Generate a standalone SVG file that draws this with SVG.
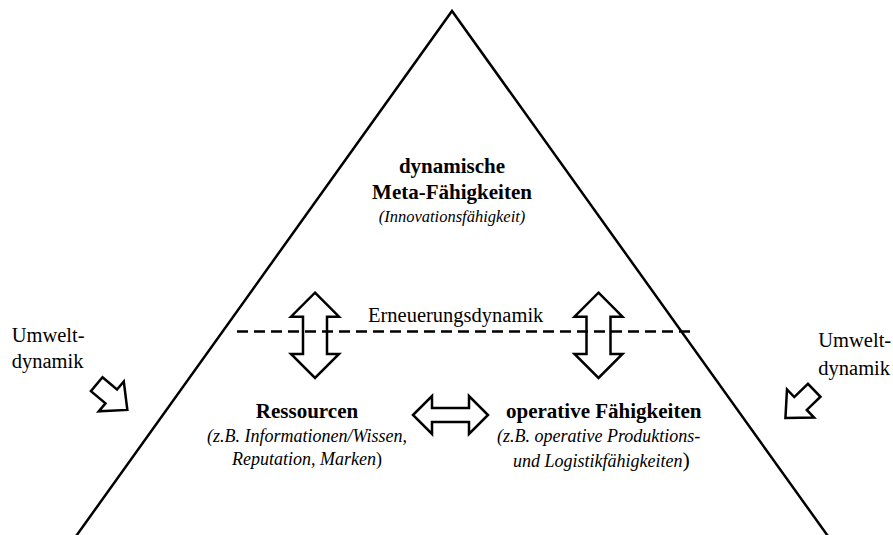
<svg xmlns="http://www.w3.org/2000/svg" width="893" height="535" viewBox="0 0 893 535">
  <defs>
    <style>
      text { font-family: "Liberation Serif", "Times New Roman", serif; fill: #000; }
      .b { font-weight: bold; font-size: 21px; }
      .i { font-style: italic; font-size: 18px; }
      .r { font-size: 20.5px; }
      .mid { text-anchor: middle; }
      .outline { fill: #fff; stroke: #000; stroke-width: 2.5; stroke-linejoin: miter; }
      .edge { fill: none; stroke: #000; stroke-width: 2.5; }
    </style>
    <!-- block arrow pointing along +x, tail at origin -->
    <path id="blockArrow" d="M0,-9 L19,-9 L19,-19.5 L40,0 L19,19.5 L19,9 L0,9 Z"/>
  </defs>
  <rect width="893" height="535" fill="#fff"/>

  <!-- pyramid outline -->
  <g id="pyramid">
    <polyline class="edge" points="69,546 452,11 835,546"/>
  </g>

  <g id="connectors">
    <!-- vertical double arrows across the renewal line -->
    <path class="outline" d="M315,292.7 L339,316.7 L327,316.7 L327,354 L339,354 L315,378 L291,354 L303,354 L303,316.7 L291,316.7 Z"/>
    <path class="outline" d="M598.5,292.7 L622.5,316.7 L610.5,316.7 L610.5,354 L622.5,354 L598.5,378 L574.5,354 L586.5,354 L586.5,316.7 L574.5,316.7 Z"/>
    <!-- horizontal double arrow between resources and operative capabilities -->
    <path class="outline" d="M413,415 L432,396 L432,408 L469,408 L469,396 L488,415 L469,434 L469,422 L432,422 L432,434 Z"/>
    <!-- renewal dynamics boundary -->
    <line class="edge" x1="237" y1="331.5" x2="692" y2="331.5" stroke-dasharray="11 6"/>
    <!-- environmental dynamics arrows -->
    <use href="#blockArrow" class="outline" transform="translate(96.7,384.2) rotate(40)"/>
    <use href="#blockArrow" class="outline" transform="translate(814.2,390.3) rotate(136)"/>
  </g>

  <g id="meta">
    <text class="b mid" x="452" y="173">dynamische</text>
    <text class="b mid" x="452" y="199">Meta-Fähigkeiten</text>
    <text class="i mid" x="452" y="222" style="font-size:16.5px">(Innovationsfähigkeit)</text>
  </g>

  <g id="renewal">
    <text class="r" x="368" y="321.7">Erneuerungsdynamik</text>
  </g>

  <g id="resources">
    <text class="b mid" x="307" y="418">Ressourcen</text>
    <text class="i mid" x="307" y="441.5">(z.B. Informationen/Wissen,</text>
    <text class="i mid" x="307" y="465">Reputation, Marken<tspan font-style="normal">)</tspan></text>
  </g>

  <g id="operative">
    <text class="b" x="506" y="418">operative Fähigkeiten</text>
    <text class="i" x="497" y="442">(z.B. operative Produktions-</text>
    <text class="i" x="513" y="467">und Logistikfähigkeiten<tspan font-style="normal" font-size="22">)</tspan></text>
  </g>

  <g id="env-left">
    <text class="r" x="11.7" y="341.7">Umwelt-</text>
    <text class="r" x="11.7" y="368.3">dynamik</text>
  </g>

  <g id="env-right">
    <text class="r" x="818.3" y="347.3">Umwelt-</text>
    <text class="r" x="818.3" y="375">dynamik</text>
  </g>
</svg>
